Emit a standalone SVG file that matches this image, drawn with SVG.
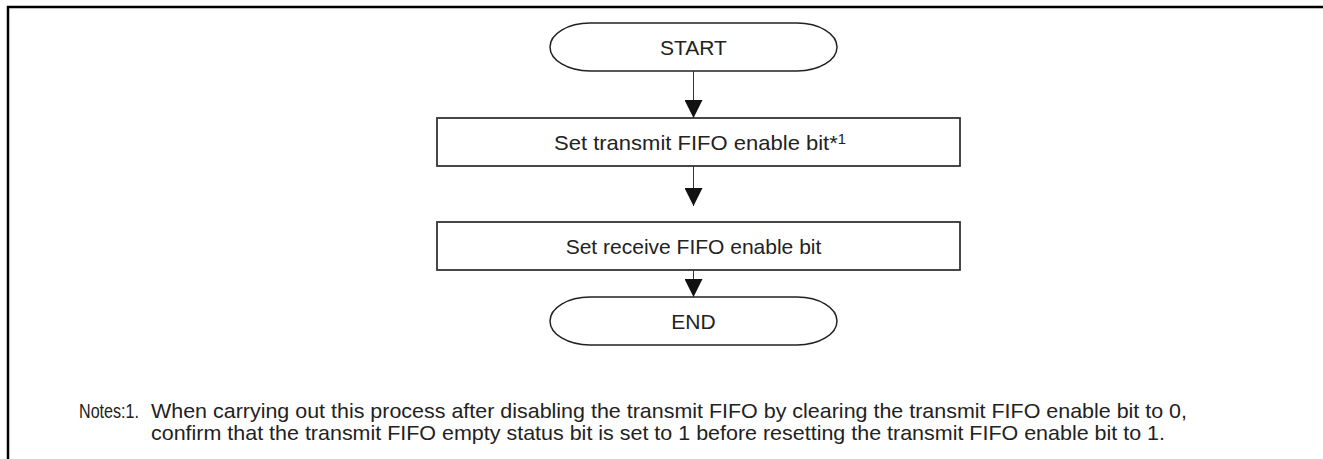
<svg xmlns="http://www.w3.org/2000/svg" width="1323" height="459" viewBox="0 0 1323 459">
<defs>
<marker id="ah" viewBox="0 0 18 18" refX="18" refY="9" markerWidth="18" markerHeight="18" markerUnits="userSpaceOnUse" orient="auto">
<path d="M0,0 L18,9 L0,18 Z" fill="#111"/>
</marker>
</defs>
<style>
.frame{fill:none;stroke:#000;stroke-width:2.5}
.term{fill:#fff;stroke:#222;stroke-width:1.5}
.box{fill:#fff;stroke:#333;stroke-width:1.8}
.lbl{font-family:"Liberation Sans",Arial,sans-serif;font-size:21px;fill:#222;text-anchor:middle}
.note{font-family:"Liberation Sans",Arial,sans-serif;font-size:21px;fill:#222}
.conn{stroke:#333;stroke-width:1;fill:none}
.sup{font-size:14px}
</style>
<rect width="1323" height="459" fill="#fff"/>
<path class="frame" d="M8,459 V7 H1323"/>
<g id="start">
<rect class="term" x="550" y="23" width="287" height="48" rx="40" ry="24"/>
<text class="lbl" x="693.5" y="54.5">START</text>
</g>
<g id="step1">
<rect class="box" x="437" y="118" width="523" height="48"/>
<text class="lbl" x="700" y="149.5" textLength="292" lengthAdjust="spacingAndGlyphs">Set transmit FIFO enable bit<tspan>*</tspan><tspan class="sup" dy="-6">1</tspan></text>
</g>
<g id="step2">
<rect class="box" x="437" y="222" width="523" height="48"/>
<text class="lbl" x="693.5" y="253.5">Set receive FIFO enable bit</text>
</g>
<g id="end">
<rect class="term" x="550" y="297" width="287" height="48" rx="40" ry="24"/>
<text class="lbl" x="693.5" y="328.5">END</text>
</g>
<g id="connectors">
<line class="conn" x1="693.5" y1="71" x2="693.5" y2="118" marker-end="url(#ah)"/>
<line class="conn" x1="693.5" y1="166" x2="693.5" y2="206" marker-end="url(#ah)"/>
<line class="conn" x1="693.5" y1="270" x2="693.5" y2="297" marker-end="url(#ah)"/>
</g>
<g id="notes">
<text class="note" x="79" y="418" textLength="60" lengthAdjust="spacingAndGlyphs">Notes:1.</text>
<text class="note" x="151" y="418" textLength="1036" lengthAdjust="spacingAndGlyphs">When carrying out this process after disabling the transmit FIFO by clearing the transmit FIFO enable bit to 0,</text>
<text class="note" x="151" y="440" textLength="1014" lengthAdjust="spacingAndGlyphs">confirm that the transmit FIFO empty status bit is set to 1 before resetting the transmit FIFO enable bit to 1.</text>
</g>
</svg>
